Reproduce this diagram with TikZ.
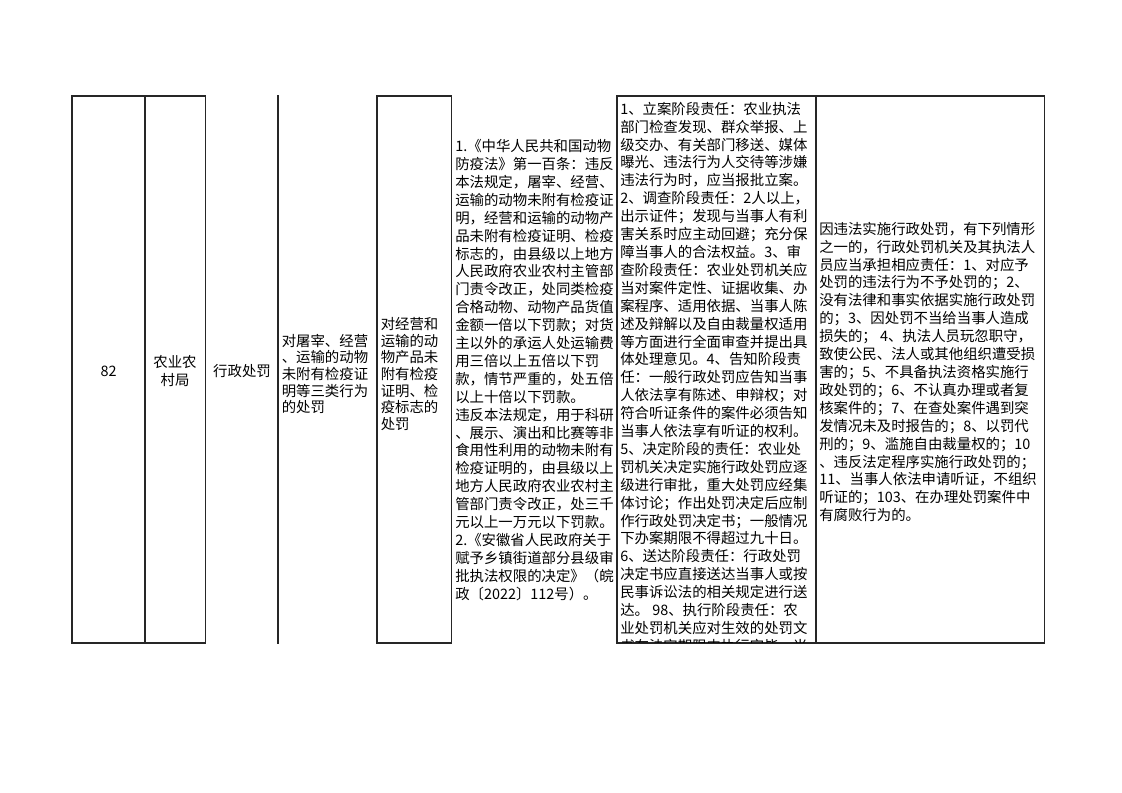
\documentclass[tikz,border=0pt]{standalone}
\usepackage{fontspec}
\newfontfamily\cjk{Noto Sans CJK SC}
\begin{document}
\begin{tikzpicture}[x=0.75pt,y=-0.75pt,
  rule/.style={draw=black!85,line width=0.8pt,line cap=rect},
  shortcell/.style={inner sep=0pt,align=left,anchor=west,font=\cjk\fontsize{10.8}{12.4}\selectfont},
  longcell/.style={inner sep=0pt,align=left,anchor=west,font=\cjk\fontsize{10.8}{13.43}\selectfont},
  midcell/.style={inner sep=0pt,align=center,font=\cjk\fontsize{10.8}{13}\selectfont}]
\useasboundingbox (0,0) rectangle (1122,793);
% rules
\foreach \x in {72,145,205.5,278,377,451.5,617,816,1044.5}
  \draw[rule] (\x,96) -- (\x,643);
\draw[rule] (72,96) -- (205.5,96) (377,96) -- (451.5,96) (617,96) -- (1044.5,96);
\draw[rule] (72,643) -- (205.5,643) (377,643) -- (451.5,643) (617,643) -- (1044.5,643);
% cells
\node[midcell] (num) at (108.5,371) {82};
\node[midcell] (dept) at (175,371) {农业农\\村局};
\node[midcell] (kind) at (242,371) {行政处罚};
\node[shortcell] (item) at (281.5,374) {对屠宰、经营\\、运输的动物\\未附有检疫证\\明等三类行为\\的处罚};
\node[shortcell] (sub) at (380.5,374) {对经营和\\运输的动\\物产品未\\附有检疫\\证明、检\\疫标志的\\处罚};
\node[longcell] (basis) at (455,370) {1.《中华人民共和国动物\\防疫法》第一百条：违反\\本法规定，屠宰、经营、\\运输的动物未附有检疫证\\明，经营和运输的动物产\\品未附有检疫证明、检疫\\标志的，由县级以上地方\\人民政府农业农村主管部\\门责令改正，处同类检疫\\合格动物、动物产品货值\\金额一倍以下罚款；对货\\主以外的承运人处运输费\\用三倍以上五倍以下罚\\款，情节严重的，处五倍\\以上十倍以下罚款。\\违反本法规定，用于科研\\、展示、演出和比赛等非\\食用性利用的动物未附有\\检疫证明的，由县级以上\\地方人民政府农业农村主\\管部门责令改正，处三千\\元以上一万元以下罚款。\\2.《安徽省人民政府关于\\赋予乡镇街道部分县级审\\批执法权限的决定》（皖\\政〔2022〕112号）。};
\begin{scope}
\clip (617,96) rectangle (816,642.5);
\node[longcell] (duty) at (620,377.5) {1、立案阶段责任：农业执法\\部门检查发现、群众举报、上\\级交办、有关部门移送、媒体\\曝光、违法行为人交待等涉嫌\\违法行为时，应当报批立案。\\2、调查阶段责任：2人以上，\\出示证件；发现与当事人有利\\害关系时应主动回避；充分保\\障当事人的合法权益。3、审\\查阶段责任：农业处罚机关应\\当对案件定性、证据收集、办\\案程序、适用依据、当事人陈\\述及辩解以及自由裁量权适用\\等方面进行全面审查并提出具\\体处理意见。4、告知阶段责\\任：一般行政处罚应告知当事\\人依法享有陈述、申辩权；对\\符合听证条件的案件必须告知\\当事人依法享有听证的权利。\\5、决定阶段的责任：农业处\\罚机关决定实施行政处罚应逐\\级进行审批，重大处罚应经集\\体讨论；作出处罚决定后应制\\作行政处罚决定书；一般情况\\下办案期限不得超过九十日。\\6、送达阶段责任：行政处罚\\决定书应直接送达当事人或按\\民事诉讼法的相关规定进行送\\达。 98、执行阶段责任：农\\业处罚机关应对生效的处罚文\\书在法定期限内执行完毕，当};
\end{scope}
\node[longcell] (liab) at (819,372) {因违法实施行政处罚，有下列情形\\之一的，行政处罚机关及其执法人\\员应当承担相应责任：1、对应予\\处罚的违法行为不予处罚的；2、\\没有法律和事实依据实施行政处罚\\的；3、因处罚不当给当事人造成\\损失的； 4、执法人员玩忽职守，\\致使公民、法人或其他组织遭受损\\害的；5、不具备执法资格实施行\\政处罚的；6、不认真办理或者复\\核案件的；7、在查处案件遇到突\\发情况未及时报告的；8、以罚代\\刑的；9、滥施自由裁量权的；10\\、违反法定程序实施行政处罚的；\\11、当事人依法申请听证，不组织\\听证的；103、在办理处罚案件中\\有腐败行为的。};
\end{tikzpicture}
\end{document}
